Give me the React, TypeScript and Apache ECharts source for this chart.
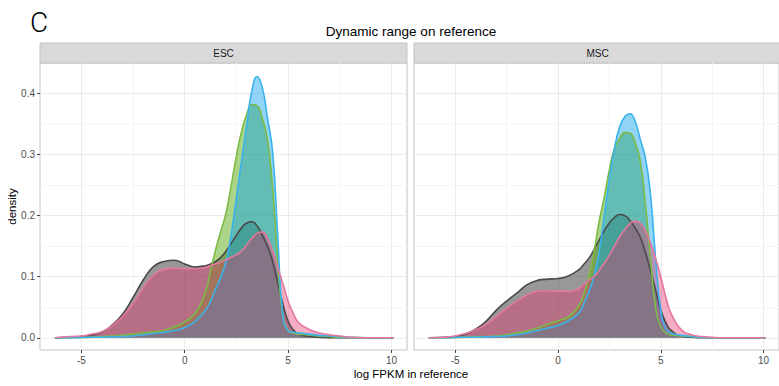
import React, { useEffect, useRef } from 'react';
import * as echarts from 'echarts';

const X = [-6.28, -5.5, -5, -4.5, -4, -3.5, -3, -2.5, -2, -1.5, -1, -0.5, 0, 0.5, 1, 1.25, 1.5, 1.75, 2, 2.25, 2.5, 2.75, 3, 3.25, 3.5, 3.75, 4, 4.25, 4.5, 4.75, 5, 5.25, 5.5, 6, 6.5, 7, 7.5, 8, 9, 10.1];

const ESC_GREY = [0, 0.001, 0.002, 0.004, 0.009, 0.021, 0.039, 0.066, 0.095, 0.117, 0.125, 0.127, 0.121, 0.116, 0.118, 0.121, 0.125, 0.132, 0.142, 0.155, 0.168, 0.18, 0.188, 0.19, 0.183, 0.168, 0.15, 0.125, 0.09, 0.055, 0.027, 0.013, 0.006, 0.002, 0.001, 0, 0, 0, 0, 0];
const ESC_GREEN = [0, 0, 0.0005, 0.001, 0.002, 0.003, 0.004, 0.006, 0.008, 0.01, 0.012, 0.018, 0.026, 0.04, 0.075, 0.11, 0.145, 0.175, 0.205, 0.25, 0.298, 0.338, 0.366, 0.382, 0.38, 0.36, 0.325, 0.245, 0.125, 0.035, 0.012, 0.008, 0.006, 0.005, 0.003, 0.002, 0.001, 0.0005, 0, 0];
const ESC_BLUE = [0, 0, 0.0005, 0.001, 0.001, 0.0015, 0.002, 0.003, 0.005, 0.007, 0.009, 0.012, 0.017, 0.027, 0.045, 0.06, 0.08, 0.1, 0.125, 0.17, 0.23, 0.29, 0.35, 0.405, 0.428, 0.41, 0.36, 0.305, 0.165, 0.035, 0.012, 0.009, 0.008, 0.006, 0.004, 0.003, 0.002, 0.001, 0, 0];
const ESC_PINK = [0, 0.002, 0.003, 0.006, 0.01, 0.02, 0.035, 0.056, 0.082, 0.103, 0.112, 0.114, 0.113, 0.113, 0.115, 0.118, 0.121, 0.124, 0.128, 0.132, 0.136, 0.142, 0.152, 0.163, 0.171, 0.173, 0.163, 0.142, 0.115, 0.088, 0.06, 0.04, 0.025, 0.014, 0.008, 0.005, 0.003, 0.001, 0, 0];

const MSC_GREY = [0, 0.001, 0.002, 0.006, 0.014, 0.027, 0.045, 0.06, 0.073, 0.087, 0.094, 0.096, 0.097, 0.101, 0.111, 0.12, 0.13, 0.144, 0.16, 0.175, 0.188, 0.197, 0.202, 0.2, 0.192, 0.18, 0.165, 0.14, 0.11, 0.078, 0.045, 0.025, 0.012, 0.003, 0.001, 0, 0, 0, 0, 0];
const MSC_GREEN = [0, 0, 0.0005, 0.001, 0.0015, 0.002, 0.003, 0.005, 0.008, 0.011, 0.016, 0.022, 0.028, 0.034, 0.052, 0.07, 0.1, 0.14, 0.19, 0.23, 0.275, 0.31, 0.326, 0.336, 0.335, 0.32, 0.29, 0.22, 0.13, 0.05, 0.018, 0.008, 0.005, 0.003, 0.002, 0.001, 0, 0, 0, 0];
const MSC_BLUE = [0, 0, 0.0005, 0.001, 0.001, 0.0015, 0.002, 0.003, 0.005, 0.008, 0.012, 0.016, 0.02, 0.028, 0.04, 0.055, 0.075, 0.1, 0.14, 0.2, 0.26, 0.31, 0.345, 0.362, 0.367, 0.355, 0.325, 0.295, 0.235, 0.13, 0.045, 0.015, 0.008, 0.004, 0.002, 0.001, 0, 0, 0, 0];
const MSC_PINK = [0, 0.001, 0.003, 0.007, 0.013, 0.022, 0.035, 0.048, 0.06, 0.07, 0.076, 0.077, 0.076, 0.076, 0.08, 0.087, 0.094, 0.1, 0.11, 0.122, 0.135, 0.15, 0.165, 0.177, 0.187, 0.191, 0.188, 0.175, 0.155, 0.13, 0.1, 0.066, 0.04, 0.013, 0.005, 0.002, 0.001, 0, 0, 0];

const FACETS = ['ESC', 'MSC'];
const FACET_DATA = [
  [ESC_GREY, ESC_GREEN, ESC_BLUE, ESC_PINK],
  [MSC_GREY, MSC_GREEN, MSC_BLUE, MSC_PINK],
];
const GROUP_NAMES = ['grey', 'green', 'blue', 'pink'];

const X_MAJOR = [-5, 0, 5, 10];
const X_MINOR = [-2.5, 2.5, 7.5];
const Y_MAJOR = [0, 0.1, 0.2, 0.3, 0.4];
const Y_MINOR = [0.05, 0.15, 0.25, 0.35];

const TITLE = 'Dynamic range on reference';
const X_TITLE = 'log FPKM in reference';
const Y_TITLE = 'density';
const PANEL_LETTER = 'C';

const FONT = '"Liberation Sans", Arial, Helvetica, sans-serif';

const STYLES = [
  { line: '#4a4a4a', fill: 'rgba(40,40,40,0.48)' },
  { line: '#7cbb45', fill: 'rgba(90,172,20,0.5)' },
  { line: '#3ab3ec', fill: 'rgba(10,160,232,0.45)' },
  { line: '#e5769c', fill: 'rgba(228,50,105,0.4)' },
];

const PANEL_LEFT = [40, 414];
const PANEL_W = 367;
const PANEL_TOP = 63;
const PANEL_H = 287;
const STRIP_TOP = 43;
const STRIP_H = 20;

export default function App() {
  const ref = useRef<HTMLDivElement>(null);

  useEffect(() => {
    if (!ref.current) return;
    const chart = echarts.init(ref.current, undefined, { renderer: 'svg' });

    const grids = FACETS.map((_, i) => ({
      left: PANEL_LEFT[i],
      top: PANEL_TOP,
      width: PANEL_W,
      height: PANEL_H,
      show: true,
      borderColor: '#c4c4c4',
      borderWidth: 1,
      backgroundColor: 'transparent',
    }));

    const xAxes = FACETS.map((_, i) => ({
      type: 'value',
      gridIndex: i,
      min: -7,
      max: 10.75,
      splitLine: { show: false },
      axisLine: { show: false, onZero: false },
      axisTick: { show: true, customValues: X_MAJOR, length: 3, lineStyle: { color: '#444', width: 1 } },
      axisLabel: { customValues: X_MAJOR, color: '#4d4d4d', fontSize: 10, margin: 5, fontFamily: FONT },
    }));

    const yAxes = FACETS.map((_, i) => ({
      type: 'value',
      gridIndex: i,
      min: -0.02,
      max: 0.45,
      splitLine: { show: false },
      axisLine: { show: false, onZero: false },
      axisTick: { show: i === 0, customValues: Y_MAJOR, length: 3, lineStyle: { color: '#444', width: 1 } },
      axisLabel: {
        show: i === 0,
        customValues: Y_MAJOR,
        color: '#4d4d4d',
        fontSize: 10,
        margin: 5,
        fontFamily: FONT,
        formatter: (v: number) => v.toFixed(1),
      },
    }));

    const gridLineSeries = FACETS.map((_, i) => ({
      type: 'line',
      name: 'grid' + i,
      xAxisIndex: i,
      yAxisIndex: i,
      data: [],
      silent: true,
      z: 1,
      markLine: {
        silent: true,
        z: 1,
        symbol: ['none', 'none'],
        label: { show: false },
        emphasis: { disabled: true },
        lineStyle: { type: 'solid' },
        data: [
          ...X_MINOR.map((v) => ({ xAxis: v, lineStyle: { color: '#f5f5f5', width: 1, type: 'solid' } })),
          ...Y_MINOR.map((v) => ({ yAxis: v, lineStyle: { color: '#f5f5f5', width: 1, type: 'solid' } })),
          ...X_MAJOR.map((v) => ({ xAxis: v, lineStyle: { color: '#ebebeb', width: 1, type: 'solid' } })),
          ...Y_MAJOR.map((v) => ({ yAxis: v, lineStyle: { color: '#ebebeb', width: 1, type: 'solid' } })),
        ],
      },
    }));

    const densitySeries: any[] = [];
    FACETS.forEach((_, f) => {
      FACET_DATA[f].forEach((ys, s) => {
        densitySeries.push({
          type: 'line',
          name: FACETS[f] + '-' + GROUP_NAMES[s],
          xAxisIndex: f,
          yAxisIndex: f,
          data: X.map((x, k) => [x, ys[k]]),
          smooth: 0.5,
          symbol: 'none',
          showSymbol: false,
          silent: true,
          z: 2,
          lineStyle: { color: STYLES[s].line, width: 1.6 },
          areaStyle: { color: STYLES[s].fill, opacity: 1 },
        });
      });
    });

    const graphics: any[] = [];
    FACETS.forEach((name, i) => {
      graphics.push({
        type: 'rect',
        shape: { x: PANEL_LEFT[i], y: STRIP_TOP, width: PANEL_W, height: STRIP_H },
        style: { fill: '#d9d9d9', stroke: '#c2c2c2', lineWidth: 1 },
      });
      graphics.push({
        type: 'text',
        x: PANEL_LEFT[i] + PANEL_W / 2,
        y: STRIP_TOP + STRIP_H / 2,
        style: { text: name, fontSize: 10, fontFamily: FONT, fill: '#1a1a1a', align: 'center', verticalAlign: 'middle' },
      });
    });
    graphics.push({
      type: 'text',
      x: 411,
      y: 31,
      style: { text: TITLE, fontSize: 13.5, fontFamily: FONT, fill: '#000', align: 'center', verticalAlign: 'middle' },
    });
    graphics.push({
      type: 'text',
      x: 30,
      y: 22,
      style: { text: PANEL_LETTER, fontSize: 28, fontFamily: 'Roboto, ' + FONT, fontWeight: 300, fill: '#000', align: 'left', verticalAlign: 'middle' },
    });
    graphics.push({
      type: 'text',
      x: 411,
      y: 374,
      style: { text: X_TITLE, fontSize: 11.5, fontFamily: FONT, fill: '#000', align: 'center', verticalAlign: 'middle' },
    });
    graphics.push({
      type: 'text',
      x: 12,
      y: PANEL_TOP + PANEL_H / 2,
      rotation: Math.PI / 2,
      style: { text: Y_TITLE, fontSize: 11.5, fontFamily: FONT, fill: '#000', align: 'center', verticalAlign: 'middle' },
    });

    chart.setOption({
      animation: false,
      backgroundColor: '#ffffff',
      textStyle: { fontFamily: FONT },
      grid: grids,
      xAxis: xAxes,
      yAxis: yAxes,
      series: [...gridLineSeries, ...densitySeries],
      graphic: graphics,
    });

    return () => chart.dispose();
  }, []);

  return <div ref={ref} style={{ position: 'fixed', left: 0, top: 0, width: 779, height: 386 }} />;
}
